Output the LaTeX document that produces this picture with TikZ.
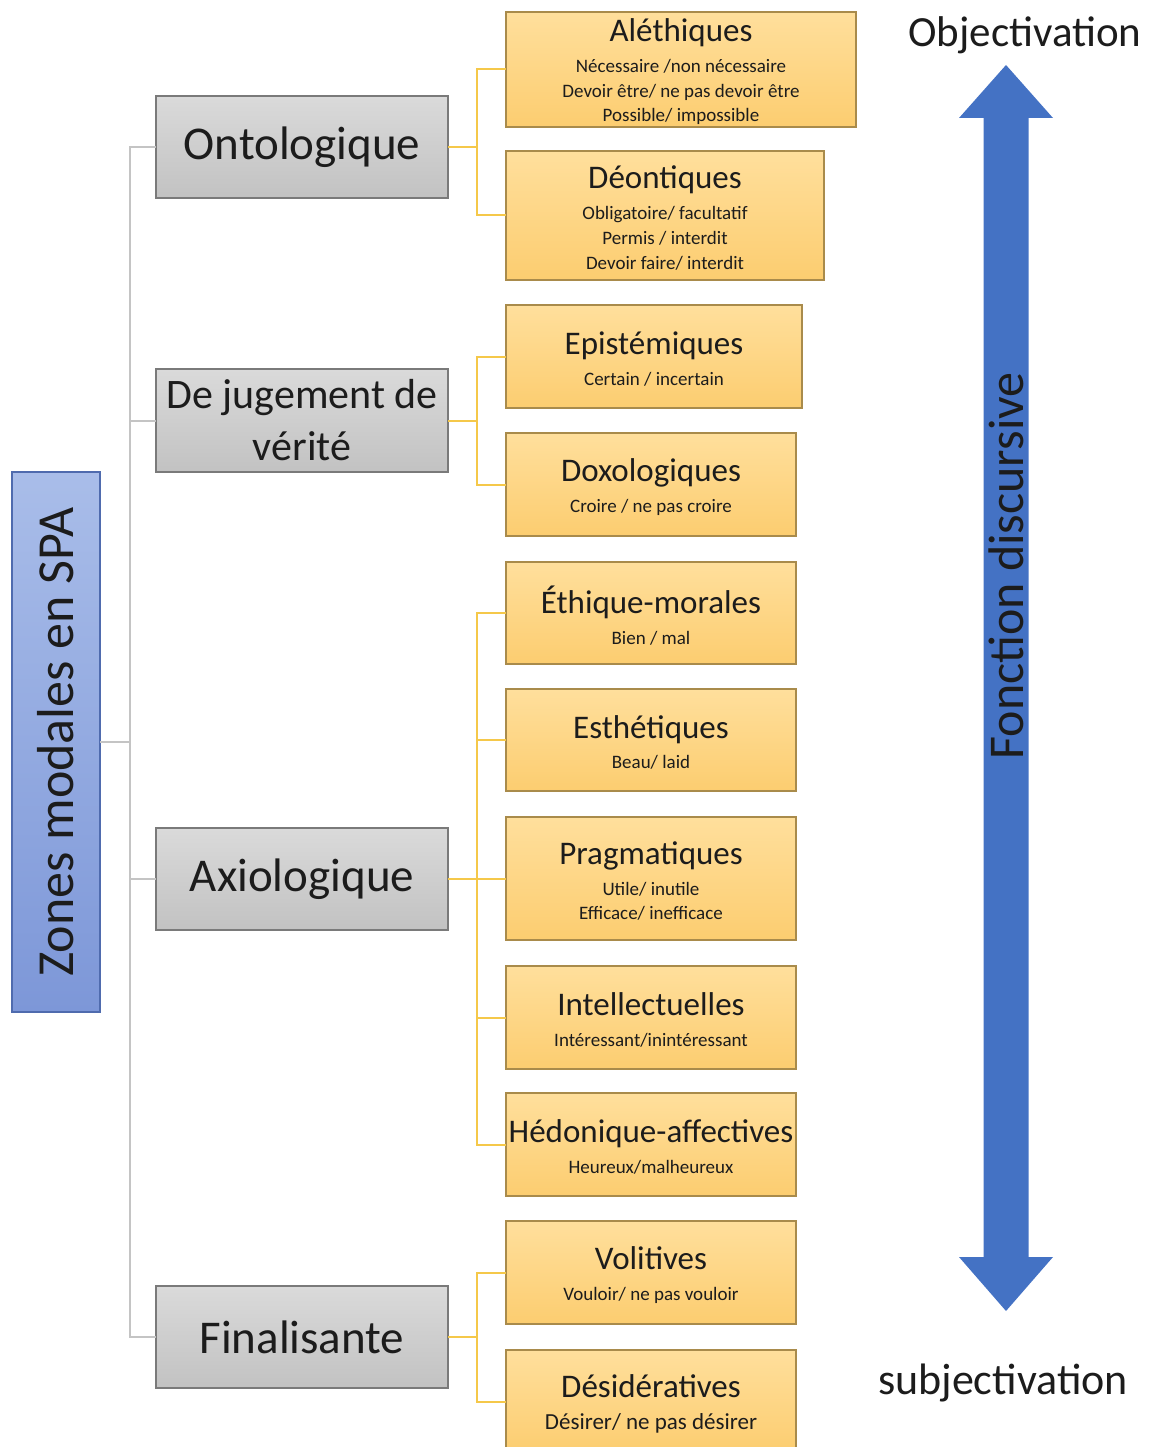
\documentclass[tikz,border=0pt]{standalone}
\usepackage{fontspec}
\setmainfont{Carlito}
\usetikzlibrary{calc}
\definecolor{rootTop}{HTML}{A9BDE9}
\definecolor{rootBot}{HTML}{7D97D8}
\definecolor{rootLine}{HTML}{4F6BAE}
\definecolor{grayTop}{HTML}{DADADA}
\definecolor{grayBot}{HTML}{C2C2C2}
\definecolor{grayLine}{HTML}{7A7A7A}
\definecolor{orTop}{HTML}{FFDF9C}
\definecolor{orBot}{HTML}{FCCD70}
\definecolor{orLine}{HTML}{A98B4B}
\definecolor{connGray}{HTML}{C4C4C4}
\definecolor{connYel}{HTML}{F5C84A}
\definecolor{arrowBlue}{HTML}{4472C4}
\definecolor{txt}{HTML}{1C1C1C}
\newcommand{\ttl}[1]{{\fontsize{33}{33}\selectfont #1}}
% box name, x, y, width, height, text
\newcommand{\obox}[6]{%
  \node[lvltwo, minimum width=#4pt, minimum height=#5pt] (#1) at (#2,#3) {};
  \node[boxtxt] (#1t) at ($(#1.center)+(0,2.5)$) {#6};}
\begin{document}
\begin{tikzpicture}[x=1pt,y=-1pt,
  rootbox/.style={draw=rootLine, line width=1.5pt, top color=rootTop, bottom color=rootBot, inner sep=0pt, outer sep=0pt},
  lvlone/.style={draw=grayLine, line width=1.5pt, top color=grayTop, bottom color=grayBot, inner sep=0pt, outer sep=0pt, text=txt, align=center, minimum width=292pt},
  lvltwo/.style={draw=orLine, line width=1.3pt, top color=orTop, bottom color=orBot, inner sep=0pt, outer sep=0pt},
  boxtxt/.style={text=txt, align=center, inner sep=0pt, font=\fontsize{19}{24.7}\selectfont},
  grayconn/.style={draw=connGray, line width=2pt},
  yelconn/.style={draw=connYel, line width=2pt},
  bigtext/.style={text=txt, inner sep=0pt, font=\fontsize{43}{43}\selectfont}
]
\useasboundingbox (0,0) rectangle (1149,1447);

% root
\node[rootbox, minimum width=88pt, minimum height=540pt] (root) at (56,742) {};
\node[bigtext, rotate=90, font=\fontsize{52}{52}\selectfont] (roottxt) at (root.center) {Zones modales en SPA};

% level one
\node[lvlone, minimum height=102pt, font=\fontsize{47}{47}\selectfont] (ont) at (302,147) {\raisebox{-2pt}{Ontologique}};
\node[lvlone, minimum height=103pt, font=\fontsize{42}{52}\selectfont] (jug) at (302,420.5) {De jugement de\\vérité};
\node[lvlone, minimum height=102pt, font=\fontsize{47}{47}\selectfont] (axi) at (302,879) {\raisebox{-2pt}{Axiologique}};
\node[lvlone, minimum height=102pt, font=\fontsize{47}{47}\selectfont] (fin) at (302,1337) {Finalisante};

% level two
\obox{ale}{681}{69.5}{350}{115}{\ttl{Aléthiques}\\[6pt] Nécessaire /non nécessaire\\ Devoir être/ ne pas devoir être\\ Possible/ impossible}
\obox{deo}{665}{215.5}{318}{129}{\ttl{Déontiques}\\[6pt] Obligatoire/ facultatif\\ Permis / interdit\\ Devoir faire/ interdit}
\obox{epi}{654}{356.5}{296}{103}{\ttl{Epistémiques}\\[6pt] Certain / incertain}
\obox{dox}{651}{484.5}{290}{103}{\ttl{Doxologiques}\\[6pt] Croire / ne pas croire}
\obox{eth}{651}{613}{290}{102}{\ttl{Éthique-morales}\\[6pt] Bien / mal}
\obox{est}{651}{740}{290}{102}{\ttl{Esthétiques}\\[6pt] Beau/ laid}
\obox{pra}{651}{878.5}{290}{123}{\ttl{Pragmatiques}\\[6pt] Utile/ inutile\\ Efficace/ inefficace}
\obox{int}{651}{1017.5}{290}{103}{\ttl{Intellectuelles}\\[6pt] Intéressant/inintéressant}
\obox{hed}{651}{1144.5}{290}{103}{\ttl{Hédonique-affectives}\\[6pt] Heureux/malheureux}
\obox{vol}{651}{1272.5}{290}{103}{\ttl{Volitives}\\[6pt] Vouloir/ ne pas vouloir}
\obox{des}{651}{1401.5}{290}{103}{\ttl{Désidératives}\\[8pt] {\fontsize{23}{26}\selectfont Désirer/ ne pas désirer}}

% gray connectors
\foreach \n in {ont,jug,axi,fin}
  \draw[grayconn] (root.east) -- ++(30,0) |- (\n.west);

% yellow connectors
\foreach \p/\c in {ont/ale,ont/deo,jug/epi,jug/dox,axi/eth,axi/est,axi/pra,axi/int,axi/hed,fin/vol,fin/des}
  \draw[yelconn] (\p.east) -- ++(29,0) |- (\c.west);

% arrow
\fill[arrowBlue] (1006,65) -- (1053,118) -- (1028.5,118) -- (1028.5,1257) -- (1053,1257)
  -- (1006,1311) -- (959,1257) -- (983.5,1257) -- (983.5,118) -- (959,118) -- cycle;
\node[bigtext, rotate=90, font=\fontsize{50}{50}\selectfont] (fd) at (1006,566) {Fonction discursive};
\node[bigtext] (obj) at (1025,35) {Objectivation};
\node[bigtext, font=\fontsize{44}{44}\selectfont] (subj) at (1003,1383) {subjectivation};
\end{tikzpicture}
\end{document}
